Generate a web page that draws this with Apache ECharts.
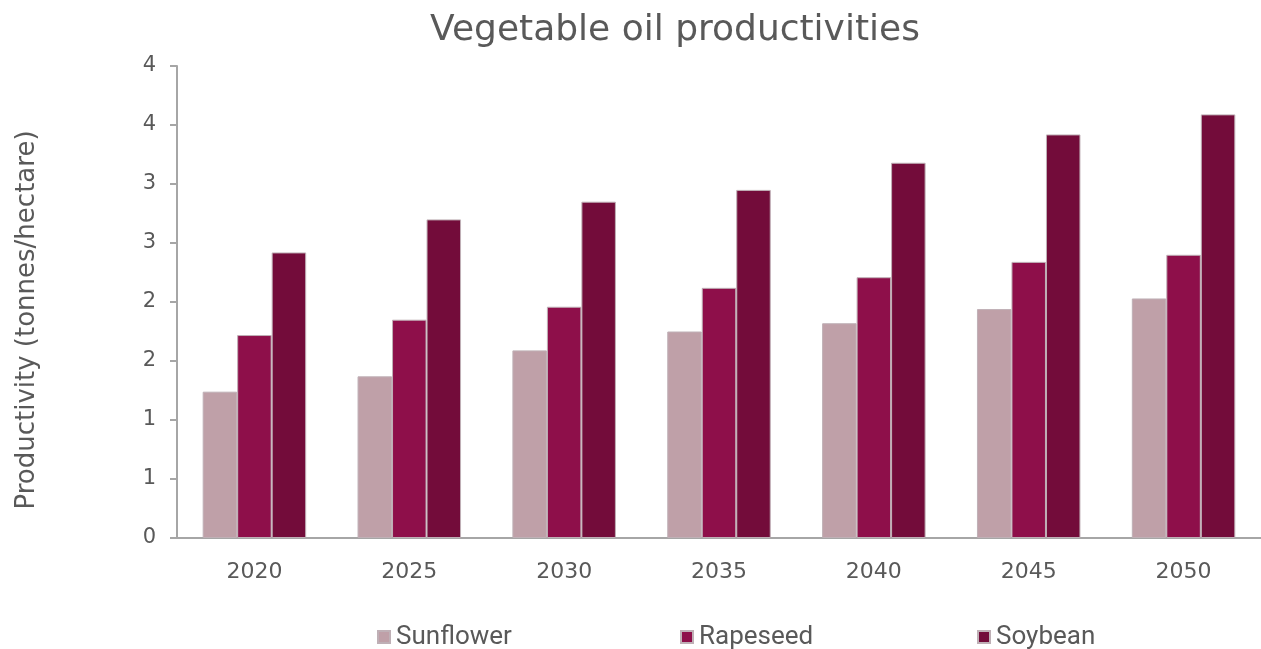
<!DOCTYPE html>
<html>
<head>
<meta charset="utf-8">
<script src="https://cdn.jsdelivr.net/npm/echarts@6/dist/echarts.min.js"></script>
<style>html,body{margin:0;padding:0;background:#fff;}#c{width:1261px;height:649px;}</style>
</head>
<body>
<div id="c"></div>
<script>
const categories = ['2020', '2025', '2030', '2035', '2040', '2045', '2050'];
const sunflower = [1.24, 1.37, 1.59, 1.75, 1.82, 1.94, 2.03];
const rapeseed  = [1.72, 1.85, 1.96, 2.12, 2.21, 2.34, 2.40];
const soybean   = [2.42, 2.70, 2.85, 2.95, 3.18, 3.42, 3.59];
const yTickLabels = ['0', '1', '1', '2', '2', '3', '3', '4', '4'];
const seriesNames = ['Sunflower', 'Rapeseed', 'Soybean'];

const chart = echarts.init(document.getElementById('c'), null, {renderer: 'canvas'});
const font = '"DejaVu Sans", sans-serif';
const txt = '#595959';
const barBorder = {borderColor: '#bfb0b6', borderWidth: 1};
const legendLefts = [377, 680, 977];
chart.setOption({
  animation: false,
  backgroundColor: '#fff',
  title: {
    text: 'Vegetable oil productivities',
    left: 670, top: 8, textAlign: 'center',
    textStyle: {fontFamily: font, fontSize: 36, fontWeight: 'normal', color: txt}
  },
  legend: seriesNames.map((n, i) => ({
    left: legendLefts[i], top: 624, padding: 0, itemWidth: 12, itemHeight: 12, itemGap: 0,
    icon: 'rect',
    textStyle: {fontFamily: 'Roboto, sans-serif', fontSize: 26, color: txt, padding: [0, 0, 0, 1]},
    data: [n]
  })),
  grid: {left: 177, top: 66, width: 1092, height: 472, containLabel: false},
  xAxis: {
    type: 'category', data: categories,
    axisLine: {lineStyle: {color: '#a6a6a6', width: 2}},
    axisTick: {show: false},
    axisLabel: {fontFamily: font, fontSize: 22, color: txt, margin: 23}
  },
  yAxis: {
    type: 'value', min: 0, max: 4, interval: 0.5,
    name: 'Productivity (tonnes/hectare)', nameLocation: 'middle', nameGap: 137,
    nameTextStyle: {fontFamily: font, fontSize: 26, color: txt, padding: [0, 36, 0, 0]},
    axisLine: {show: true, lineStyle: {color: '#a6a6a6', width: 2}},
    axisTick: {show: true, length: 7, lineStyle: {color: '#a6a6a6', width: 2}},
    splitLine: {show: false},
    axisLabel: {
      fontFamily: font, fontSize: 21, color: txt, margin: 21,
      formatter: (v, i) => yTickLabels[i]
    }
  },
  series: [
    {name: 'Sunflower', type: 'bar', data: sunflower, barWidth: 34.5, barGap: '0%',
     itemStyle: Object.assign({color: '#bfa0a8'}, barBorder)},
    {name: 'Rapeseed', type: 'bar', data: rapeseed, barWidth: 34.5, barGap: '0%',
     itemStyle: Object.assign({color: '#8e0f4a'}, barBorder)},
    {name: 'Soybean', type: 'bar', data: soybean, barWidth: 34.5, barGap: '0%',
     itemStyle: Object.assign({color: '#730c3a'}, barBorder)}
  ]
});
</script>
</body>
</html>
